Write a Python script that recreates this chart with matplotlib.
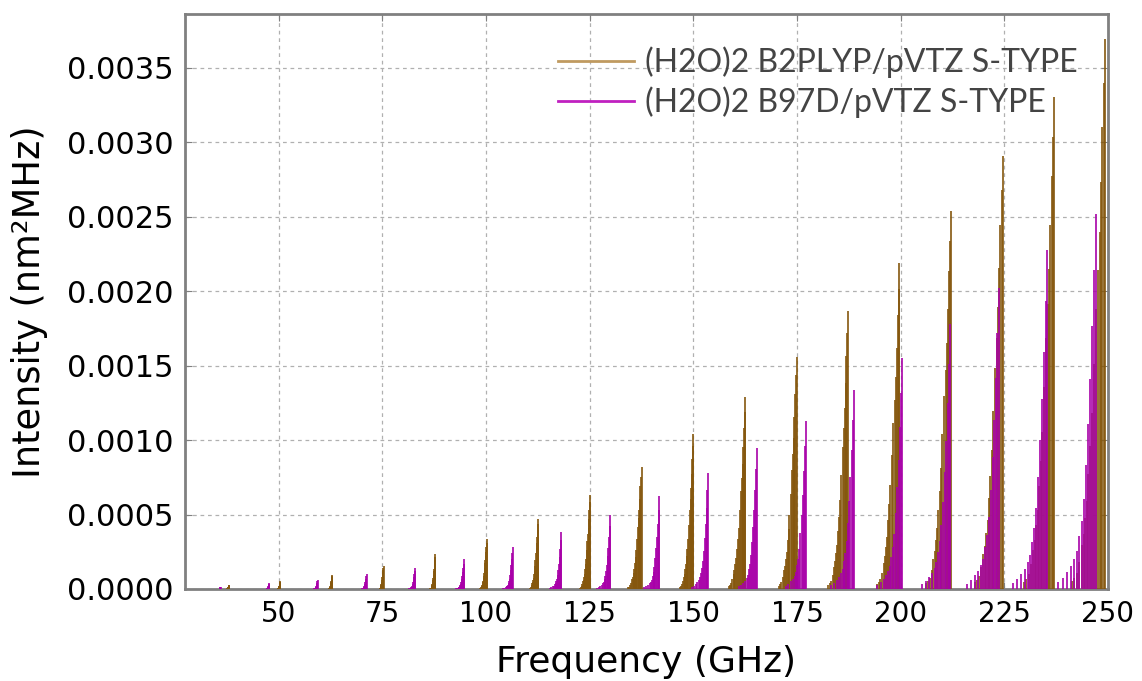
import numpy as np
import matplotlib
matplotlib.use("Agg")
import matplotlib.pyplot as plt
from matplotlib.ticker import FormatStrFormatter, MultipleLocator
from matplotlib.lines import Line2D

# Band heads (GHz) and head intensities (units of 1e-4 nm^2 MHz)
b2plyp_heads = [38.0, 50.4, 62.9, 75.3, 87.8, 100.2, 112.6, 125.1, 137.5, 150.0,
                162.5, 174.9, 187.3, 199.7, 212.1, 224.6, 237.0, 249.3]
b2plyp_peak = [0.27, 0.54, 0.94, 1.55, 2.35, 3.36, 4.73, 6.33, 8.2, 10.4,
               12.9, 15.6, 18.66, 21.9, 25.4, 29.1, 33.0, 36.9]
# how far each band spreads to the left, relative to the 162.5 GHz band
b2plyp_width = [0.15, 0.18, 0.22, 0.26, 0.3, 0.4, 0.5, 0.6, 0.8, 0.8,
                1.0, 1.08, 1.2, 1.35, 1.5, 1.65, 1.8, 2.0]

b97d_heads = [36.0, 47.7, 59.4, 71.2, 82.9, 94.7, 106.5, 118.2, 130.0, 141.8,
              153.6, 165.3, 177.1, 188.7, 200.4, 212.0, 223.7, 235.4, 247.1]
b97d_peak = [0.15, 0.4, 0.6, 1.0, 1.4, 2.0, 2.85, 3.84, 4.96, 6.26,
             7.8, 9.47, 11.3, 13.37, 15.5, 17.8, 20.2, 22.75, 25.2]
b97d_width = [0.2, 0.25, 0.3, 0.35, 0.42, 0.5, 0.6, 0.7, 0.8, 0.9,
              1.0, 1.1, 1.2, 1.35, 1.5, 1.7, 1.9, 2.1, 2.3]

# line pattern inside one band (offset from head in GHz, fraction of head)
b2plyp_off = [0, -0.16, -0.32, -0.48, -0.64, -0.85, -1.1, -1.35, -1.6, -1.8,
              -2.0, -2.2, -2.4, -2.6, -2.8, -3.1, -3.4, -3.7, -4.0]
b2plyp_rel = [1.0, 0.92, 0.84, 0.74, 0.65, 0.58, 0.51, 0.41, 0.32, 0.26,
              0.21, 0.16, 0.13, 0.10, 0.08, 0.05, 0.03, 0.02, 0.015]
b97d_off = [0, -0.2, -0.4, -0.6, -0.8, -1.05, -1.3, -1.5, -1.75, -2.0,
            -2.25, -2.6, -3.0, -3.5, -4.0]
b97d_rel = [1.0, 0.85, 0.70, 0.56, 0.44, 0.33, 0.24, 0.18, 0.14, 0.10,
            0.08, 0.06, 0.045, 0.03, 0.018]

labels = ["(H2O)2 B2PLYP/pVTZ S-TYPE", "(H2O)2 B97D/pVTZ S-TYPE"]
BROWN = "#85570d"
PURPLE = "#a800a8"


def sticks(heads, peak, width, off, rel):
    f = (np.array(heads)[:, None] + np.array(width)[:, None] * np.array(off)[None, :]).ravel()
    y = (np.array(peak)[:, None] * np.array(rel)[None, :]).ravel() * 1e-4
    return f, y


fig = plt.figure(figsize=(11.42, 6.81), dpi=100)
ax = fig.add_axes([0.162, 0.1351, 0.8082, 0.8443])

f1, y1 = sticks(b2plyp_heads, b2plyp_peak, b2plyp_width, b2plyp_off, b2plyp_rel)
f2, y2 = sticks(b97d_heads, b97d_peak, b97d_width, b97d_off, b97d_rel)
ax.vlines(f1, 0, y1, colors=BROWN, linewidth=1.4, alpha=0.85, zorder=3)
ax.vlines(f2, 0, y2, colors=PURPLE, linewidth=1.4, alpha=0.85, zorder=4)

ax.set_xlim(27.4, 249.5)
ax.set_ylim(0, 0.00386)
ax.set_xticks(np.arange(50, 251, 25))
ax.yaxis.set_major_locator(MultipleLocator(0.0005))
ax.yaxis.set_major_formatter(FormatStrFormatter("%.4f"))

ax.grid(True, color="#b0b0b0", linestyle=(0, (3, 3)), linewidth=0.9, zorder=0)
ax.set_axisbelow(True)
for s in ax.spines.values():
    s.set_color("#808080")
    s.set_linewidth(2)
ax.tick_params(direction="in", length=5, color="#808080", top=True, right=True, pad=8)
ax.tick_params(axis="y", labelsize=22)
ax.tick_params(axis="x", labelsize=20)

ax.set_xlabel("Frequency (GHz)", fontsize=26, labelpad=12)
ax.set_ylabel("Intensity (nm²MHz)", fontsize=26.5, labelpad=14)

handles = [Line2D([], [], color="#c09a60", lw=2),
           Line2D([], [], color="#c020c0", lw=2)]
leg = ax.legend(handles, labels, loc="upper right", frameon=False,
                prop={"family": "Lato", "size": 23},
                handlelength=2.35, handletextpad=0.37, labelspacing=0.28,
                borderpad=0, borderaxespad=0, bbox_to_anchor=(0.9675, 0.944))
for t in leg.get_texts():
    t.set_color("#444444")

fig.savefig("out.png", dpi=100)
